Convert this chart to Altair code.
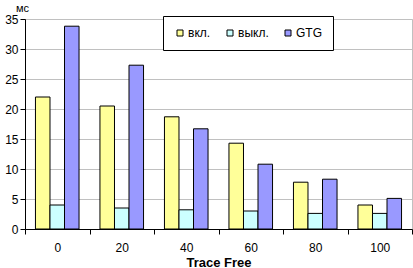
import altair as alt
import pandas as pd

# Trace Free settings along the x axis
trace_free = ["0", "20", "40", "60", "80", "100"]

# Timings in ms for each mode
series_names = ["вкл.", "выкл.", "GTG"]
vkl = [22.0, 20.5, 18.7, 14.3, 7.8, 4.0]
vykl = [4.0, 3.5, 3.2, 3.0, 2.6, 2.6]
gtg = [33.8, 27.3, 16.7, 10.8, 8.3, 5.1]

series_colors = ["#FFFF99", "#CCFFFF", "#9999FF"]

rows = []
for name, values in zip(series_names, [vkl, vykl, gtg]):
    for cat, v in zip(trace_free, values):
        rows.append({"trace": cat, "mode": name, "ms": v})
df = pd.DataFrame(rows)

FONT = "Liberation Sans"

chart = (
    alt.Chart(df)
    .mark_bar(stroke="black", strokeWidth=1)
    .encode(
        x=alt.X(
            "trace:N",
            sort=trace_free,
            scale=alt.Scale(paddingInner=0, paddingOuter=0),
            axis=alt.Axis(
                title="Trace Free",
                titleFont=FONT,
                titleFontSize=13,
                titleFontWeight="bold",
                titleColor="black",
                titlePadding=3,
                labelAngle=0,
                labelFont=FONT,
                labelFontSize=12,
                labelColor="black",
                labelPadding=8,
                tickBand="extent",
                tickSize=5,
                tickColor="black",
                domainColor="black",
                grid=False,
            ),
        ),
        xOffset=alt.XOffset(
            "mode:N",
            sort=series_names,
            scale=alt.Scale(paddingInner=0, paddingOuter=0.72),
        ),
        y=alt.Y(
            "ms:Q",
            scale=alt.Scale(domain=[0, 35], nice=False),
            axis=alt.Axis(
                values=[0, 5, 10, 15, 20, 25, 30, 35],
                title="мс",
                titleAngle=0,
                titleX=-3,
                titleY=-8,
                titleAlign="center",
                titleBaseline="alphabetic",
                titleFont=FONT,
                titleFontSize=11,
                titleFontWeight="normal",
                titleColor="black",
                labelFont=FONT,
                labelFontSize=12,
                labelColor="black",
                labelPadding=2,
                tickSize=5,
                tickColor="black",
                domainColor="black",
                gridColor="#C0C0C0",
            ),
        ),
        color=alt.Color(
            "mode:N",
            sort=series_names,
            scale=alt.Scale(domain=series_names, range=series_colors),
            legend=alt.Legend(
                title=None,
                orient="none",
                direction="horizontal",
                legendX=138,
                legendY=-3,
                symbolType="square",
                symbolSize=36,
                symbolStrokeColor="black",
                symbolStrokeWidth=1,
                labelFont=FONT,
                labelFontSize=12,
                labelColor="black",
                labelOffset=2,
                columnPadding=13,
                padding=11,
                strokeColor="black",
                fillColor="white",
            ),
        ),
    )
    .properties(
        width=387,
        height=210,
        autosize=alt.AutoSizeParams(type="none"),
        padding={"left": 25, "top": 19, "right": 1, "bottom": 39},
    )
    .configure_view(stroke="#C0C0C0")
)

chart.save("out.html", embed_options={"renderer": "svg", "actions": False})
